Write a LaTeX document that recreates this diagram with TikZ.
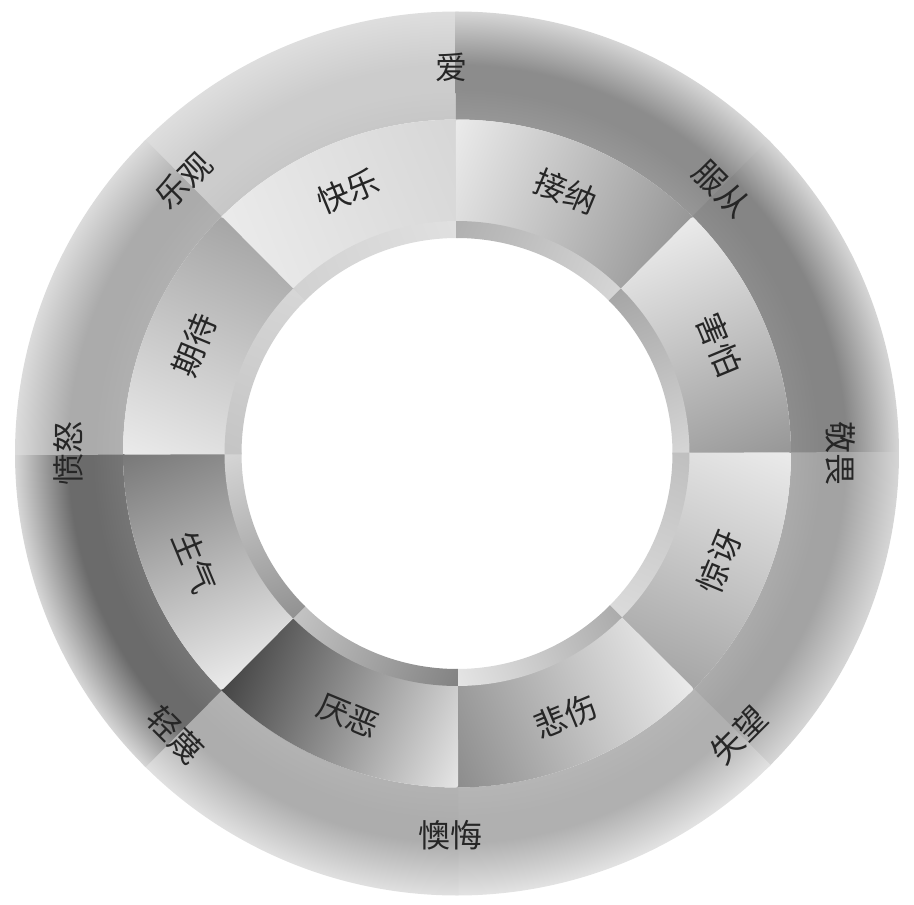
\documentclass[tikz,border=0pt]{standalone}
\usepackage{fontspec}
\usepackage{tikz}
\newfontfamily\cjk{Noto Sans CJK SC}

\colorlet{tubein}{black!30}
\colorlet{tubemid}{black!35}
\colorlet{tubeout}{black!15}
\pgfdeclareradialshading[tubein,tubemid,tubeout]{tube}{\pgfpoint{0bp}{0bp}}{%
  color(0bp)=(tubein); color(18.9bp)=(tubein); color(20.6bp)=(tubemid);
  color(22bp)=(tubemid); color(25bp)=(tubeout); color(50bp)=(tubeout)}

\newcommand{\bandpart}[5]{%
  \begin{scope}
    \colorlet{tubein}{#3}\colorlet{tubemid}{#4}\colorlet{tubeout}{#5}
    \clip (#1-0.2:334) arc[start angle=#1-0.2, end angle=#2+0.2, radius=334] -- (#2+0.2:442)
      arc[start angle=#2+0.2, end angle=#1-0.2, radius=442] -- cycle;
    \shade[shading=tube] (0,0) circle (442);
  \end{scope}}

\newcommand{\wedgepart}[5]{%
  \begin{scope}[transform canvas={rotate=#1}]
    \begin{scope}
      \clip (-22.7:232) -- (-22.7:334) arc[start angle=-22.7, end angle=22.7, radius=334]
        -- (22.7:232) arc[start angle=22.7, end angle=-22.7, radius=232] -- cycle;
      \shade[bottom color=#2, top color=#3] (200,-128) rectangle (340,128);
    \end{scope}
    \begin{scope}
      \clip (-22.7:215.5) -- (-22.7:232.5) arc[start angle=-22.7, end angle=22.7, radius=232.5]
        -- (22.7:215.5) arc[start angle=22.7, end angle=-22.7, radius=215.5] -- cycle;
      \shade[bottom color=#4, top color=#5] (190,-90) rectangle (240,90);
    \end{scope}
  \end{scope}}

\begin{document}
\begin{tikzpicture}[
    x=0.5pt, y=0.5pt,
    lbl/.style={font=\cjk\fontsize{16}{18}\selectfont, text=black!85, inner sep=0.5pt}
]
    \useasboundingbox (-457,-450.5) rectangle (457,453.5);

    \bandpart{90}{135}{black!22}{black!20}{black!13}
    \bandpart{45}{90}{black!41}{black!45}{black!16}
    \bandpart{0}{45}{black!45}{black!48}{black!16}
    \bandpart{-45}{0}{black!33}{black!36}{black!16}
    \bandpart{-90}{-45}{black!29}{black!31}{black!11}
    \bandpart{-135}{-90}{black!30}{black!32}{black!12}
    \bandpart{180}{225}{black!54}{black!58}{black!16}
    \bandpart{135}{180}{black!31}{black!33}{black!14}

    \wedgepart{112.5}{black!16}{black!8}{black!12}{black!18}
    \wedgepart{67.5}{black!41}{black!8}{black!16}{black!31}
    \wedgepart{22.5}{black!41}{black!8}{black!16}{black!35}
    \wedgepart{-22.5}{black!35}{black!8}{black!14}{black!25}
    \wedgepart{-67.5}{black!45}{black!8}{black!10}{black!33}
    \wedgepart{-112.5}{black!73}{black!10}{black!23}{black!49}
    \wedgepart{-157.5}{black!53}{black!8}{black!16}{black!43}
    \wedgepart{157.5}{black!35}{black!8}{black!16}{black!23}

    \node[lbl] (love) at (90.8:386) {爱};
    \node[lbl, rotate=-45] (submission) at (45:374) {服从};
    \node[lbl, rotate=-90] (awe) at (0:384) {敬畏};
    \node[lbl, rotate=45] (disappointment) at (-45:398) {失望};
    \node[lbl] (remorse) at (-91:382) {懊悔};
    \node[lbl, rotate=-45] (contempt) at (-135:398) {轻蔑};
    \node[lbl, rotate=90] (aggression) at (180:389) {愤怒};
    \node[lbl, rotate=45] (optimism) at (135:386) {乐观};

    \node[lbl, rotate=22.5] (joy) at (112.5:284) {快乐};
    \node[lbl, rotate=-22.5] (trust) at (67.5:284) {接纳};
    \node[lbl, rotate=-67.5] (fear) at (22.5:284) {害怕};
    \node[lbl, rotate=67.5] (surprise) at (-22.5:284) {惊讶};
    \node[lbl, rotate=22.5] (sadness) at (-67.5:284) {悲伤};
    \node[lbl, rotate=-22.5] (disgust) at (-112.5:284) {厌恶};
    \node[lbl, rotate=-67.5] (anger) at (-157.5:284) {生气};
    \node[lbl, rotate=67.5] (anticipation) at (157.5:284) {期待};
\end{tikzpicture}
\end{document}
